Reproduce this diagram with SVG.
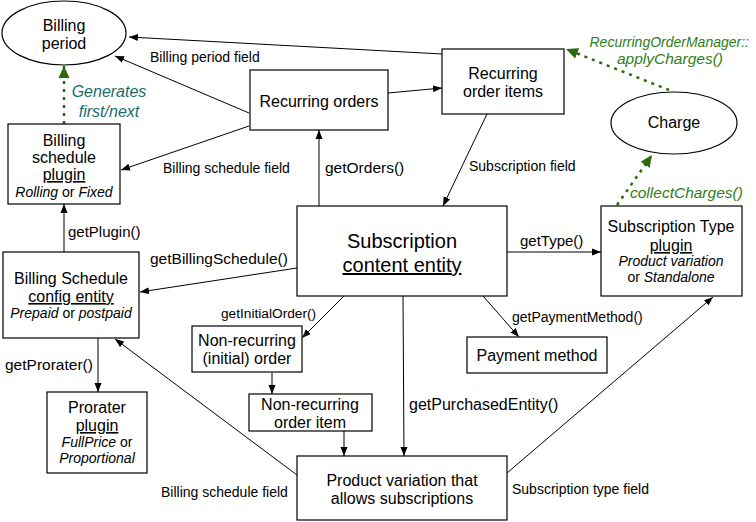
<svg xmlns="http://www.w3.org/2000/svg" width="756" height="522" viewBox="0 0 756 522">
<style>
text{font-family:"Liberation Sans",Arial,Helvetica,sans-serif;fill:#000}
.n{font-size:16px;text-anchor:middle}
.ni{font-size:14px;text-anchor:middle}
.i{font-style:italic}
.u{text-decoration:underline}
.box{fill:#fff;stroke:#000;stroke-width:1.2}
.ln{fill:none;stroke:#000;stroke-width:1}
.gl{fill:none;stroke:#2a6a0a;stroke-width:2.5;stroke-dasharray:3 5}
.lb{font-size:14px}
.lm{font-size:15.5px}
.gt{font-style:italic;fill:#2f7d18;font-size:15.5px}
.tt{font-style:italic;fill:#1a6b6b;font-size:16px;text-anchor:middle}
</style>
<defs>
<marker id="a" markerUnits="userSpaceOnUse" markerWidth="10" markerHeight="8" refX="9" refY="4" orient="auto"><path d="M0,0.5 L9,4 L0,7.5 Z" fill="#000"/></marker>
<marker id="g" markerUnits="userSpaceOnUse" markerWidth="14" markerHeight="12" refX="12" refY="6" orient="auto"><path d="M0,0.5 L12,6 L0,11.5 Z" fill="#2a6a0a"/></marker>
</defs>
<g id="connectors">
<line class="ln" x1="442" y1="54" x2="129" y2="37" marker-end="url(#a)"/>
<line class="ln" x1="249" y1="113" x2="115" y2="56" marker-end="url(#a)"/>
<line class="ln" x1="249" y1="126" x2="121" y2="170" marker-end="url(#a)"/>
<line class="ln" x1="388" y1="93" x2="442" y2="88" marker-end="url(#a)"/>
<line class="ln" x1="319" y1="206" x2="319" y2="130" marker-end="url(#a)"/>
<line class="ln" x1="487" y1="114" x2="443" y2="206" marker-end="url(#a)"/>
<line class="gl" x1="669" y1="90" x2="566" y2="49" marker-end="url(#g)"/>
<line class="gl" x1="617" y1="205" x2="652" y2="155" marker-end="url(#g)"/>
<line class="gl" x1="64" y1="124" x2="64" y2="66" marker-end="url(#g)"/>
<line class="ln" x1="507" y1="252" x2="601" y2="252" marker-end="url(#a)"/>
<line class="ln" x1="64" y1="252" x2="64" y2="204" marker-end="url(#a)"/>
<line class="ln" x1="297" y1="268" x2="140" y2="292" marker-end="url(#a)"/>
<line class="ln" x1="344" y1="296" x2="302" y2="338" marker-end="url(#a)"/>
<line class="ln" x1="483" y1="296" x2="519" y2="337" marker-end="url(#a)"/>
<line class="ln" x1="403" y1="296" x2="404" y2="456" marker-end="url(#a)"/>
<line class="ln" x1="272" y1="373" x2="272" y2="394" marker-end="url(#a)"/>
<line class="ln" x1="344" y1="431" x2="344" y2="456" marker-end="url(#a)"/>
<line class="ln" x1="98" y1="338" x2="98" y2="392" marker-end="url(#a)"/>
<line class="ln" x1="297" y1="475" x2="115" y2="339" marker-end="url(#a)"/>
<line class="ln" x1="507" y1="473" x2="713" y2="297" marker-end="url(#a)"/>
<text class="lb" x="150" y="62">Billing period field</text>
<text class="lb" x="163" y="173">Billing schedule field</text>
<text class="lm" x="325" y="173">getOrders()</text>
<text class="lb" x="469" y="171">Subscription field</text>
<text class="gt" x="749" y="47" text-anchor="end" style="font-size:14px">RecurringOrderManager::</text>
<text class="gt" x="617" y="64">applyCharges()</text>
<text class="gt" x="630" y="198">collectCharges()</text>
<text class="tt" x="109" y="97">Generates</text>
<text class="tt" x="109" y="117">first/next</text>
<text class="lm" x="520" y="246" style="font-size:15px">getType()</text>
<text class="lm" x="68" y="237" style="font-size:15px">getPlugin()</text>
<text class="lm" x="150" y="264">getBillingSchedule()</text>
<text class="lb" x="221" y="318" style="font-size:13.7px">getInitialOrder()</text>
<text class="lb" x="512" y="322">getPaymentMethod()</text>
<text class="lm" x="409" y="410" style="font-size:16px">getPurchasedEntity()</text>
<text class="lm" x="5" y="370">getProrater()</text>
<text class="lb" x="161" y="497">Billing schedule field</text>
<text class="lb" x="512" y="494">Subscription type field</text>
</g>
<g id="billing-period">
<ellipse class="box" cx="64" cy="33" rx="62" ry="32"/>
<text class="n" x="64" y="31">Billing</text>
<text class="n" x="64" y="49">period</text>
</g>
<g id="billing-schedule-plugin">
<rect class="box" x="8" y="124" width="112" height="80"/>
<text class="n" x="64" y="146">Billing</text>
<text class="n" x="64" y="163">schedule</text>
<text class="n u" x="64" y="180">plugin</text>
<text class="ni" x="64" y="197"><tspan class="i">Rolling</tspan> or <tspan class="i">Fixed</tspan></text>
</g>
<g id="recurring-orders">
<rect class="box" x="250" y="70" width="138" height="60"/>
<text class="n" x="319" y="107">Recurring orders</text>
</g>
<g id="recurring-order-items">
<rect class="box" x="442" y="49" width="122" height="65"/>
<text class="n" x="503" y="79">Recurring</text>
<text class="n" x="503" y="97">order items</text>
</g>
<g id="charge">
<ellipse class="box" cx="674" cy="123" rx="63" ry="31"/>
<text class="n" x="674" y="128">Charge</text>
</g>
<g id="subscription">
<rect class="box" x="297" y="206" width="210" height="90"/>
<text class="n" x="402" y="248" style="font-size:20px">Subscription</text>
<text class="n u" x="402" y="272" style="font-size:20px">content entity</text>
</g>
<g id="subscription-type-plugin">
<rect class="box" x="601" y="206" width="141" height="90"/>
<text class="n" x="671" y="232">Subscription Type</text>
<text class="n u" x="671" y="251">plugin</text>
<text class="ni i" x="671" y="266">Product variation</text>
<text class="ni" x="671" y="282">or <tspan class="i">Standalone</tspan></text>
</g>
<g id="billing-schedule-config">
<rect class="box" x="3" y="252" width="136" height="86"/>
<text class="n" x="71" y="284">Billing Schedule</text>
<text class="n u" x="71" y="302">config entity</text>
<text class="ni" x="71" y="318"><tspan class="i">Prepaid</tspan> or <tspan class="i">postpaid</tspan></text>
</g>
<g id="prorater-plugin">
<rect class="box" x="47" y="392" width="100" height="81"/>
<text class="n" x="97" y="413">Prorater</text>
<text class="n u" x="97" y="431">plugin</text>
<text class="ni" x="97" y="447"><tspan class="i">FullPrice</tspan> or</text>
<text class="ni i" x="97" y="463">Proportional</text>
</g>
<g id="non-recurring-order">
<rect class="box" x="192" y="326" width="110" height="46"/>
<text class="n" x="247" y="346">Non-recurring</text>
<text class="n" x="247" y="364">(initial) order</text>
</g>
<g id="non-recurring-order-item">
<rect class="box" x="249" y="394" width="123" height="37"/>
<text class="n" x="310" y="410">Non-recurring</text>
<text class="n" x="310" y="428">order item</text>
</g>
<g id="payment-method">
<rect class="box" x="467" y="337" width="140" height="36"/>
<text class="n" x="537" y="361">Payment method</text>
</g>
<g id="product-variation">
<rect class="box" x="297" y="456" width="210" height="64"/>
<text class="n" x="402" y="486">Product variation that</text>
<text class="n" x="402" y="504">allows subscriptions</text>
</g>
</svg>
